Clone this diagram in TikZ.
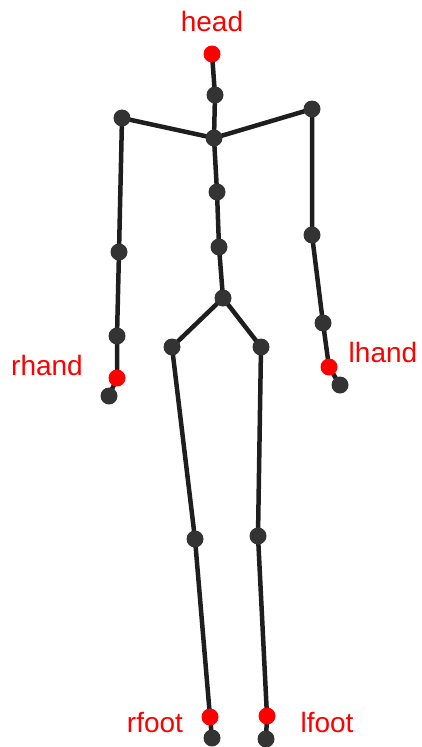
\documentclass[tikz,border=0pt]{standalone}
\usepackage{fontspec}
\setmainfont{Liberation Sans}
\usetikzlibrary{backgrounds}
\definecolor{bonegray}{HTML}{1E1E1E}
\definecolor{jointgray}{HTML}{333333}
\definecolor{tipred}{HTML}{FF0000}
\tikzset{
  joint/.style={circle, fill=jointgray, inner sep=0pt, minimum size=17pt},
  endjoint/.style={joint, fill=tipred},
  bone/.style={draw=bonegray, line width=4.5pt, line cap=round, line join=round},
  tag/.style={text=tipred, font=\fontsize{28}{28}\selectfont, inner sep=0pt}
}
\begin{document}
\begin{tikzpicture}[x=1pt, y=-1pt]
  \useasboundingbox (0,0) rectangle (421,747);
  % trunk
  \node[endjoint] (head) at (212,54) {};
  \node[joint] (neck) at (215,95) {};
  \node[joint] (shoulderc) at (214,138) {};
  \node[joint] (spine1) at (217,192) {};
  \node[joint] (spine2) at (219,247) {};
  \node[joint] (hipc) at (223,298) {};
  % right arm
  \node[joint] (rshoulder) at (122,118) {};
  \node[joint] (relbow) at (119,252) {};
  \node[joint] (rwrist) at (117,336) {};
  \node[endjoint] (rhand) at (117,378) {};
  \node[joint] (rtip) at (109,396) {};
  % left arm
  \node[joint] (lshoulder) at (312,109) {};
  \node[joint] (lelbow) at (312,235) {};
  \node[joint] (lwrist) at (323,323) {};
  \node[endjoint] (lhand) at (329,367) {};
  \node[joint] (ltip) at (340,385) {};
  % legs
  \node[joint] (rhip) at (172,347) {};
  \node[joint] (rknee) at (195,539) {};
  \node[endjoint] (rfoot) at (210,717) {};
  \node[joint] (rtoe) at (212,738) {};
  \node[joint] (lhip) at (261,347) {};
  \node[joint] (lknee) at (258,536) {};
  \node[endjoint] (lfoot) at (267,716) {};
  \node[joint] (ltoe) at (266,739) {};
  % bones under the joints
  \begin{scope}[on background layer]
    \draw[bone] (head.center) -- (neck.center) -- (shoulderc.center) -- (spine1.center)
      -- (spine2.center) -- (hipc.center);
    \draw[bone] (shoulderc.center) -- (rshoulder.center) -- (relbow.center) -- (rwrist.center)
      -- (rhand.center) -- (rtip.center);
    \draw[bone] (shoulderc.center) -- (lshoulder.center) -- (lelbow.center) -- (lwrist.center)
      -- (lhand.center) -- (ltip.center);
    \draw[bone] (hipc.center) -- (rhip.center) -- (rknee.center) -- (rfoot.center) -- (rtoe.center);
    \draw[bone] (hipc.center) -- (lhip.center) -- (lknee.center) -- (lfoot.center) -- (ltoe.center);
  \end{scope}
  % labels
  \node[tag] (headtag) at (212,21) {head};
  \node[tag] (rhandtag) at (47,365) {rhand};
  \node[tag] (lhandtag) at (383,352) {lhand};
  \node[tag] (rfoottag) at (155,722) {rfoot};
  \node[tag] (lfoottag) at (327,722) {lfoot};
\end{tikzpicture}
\end{document}
